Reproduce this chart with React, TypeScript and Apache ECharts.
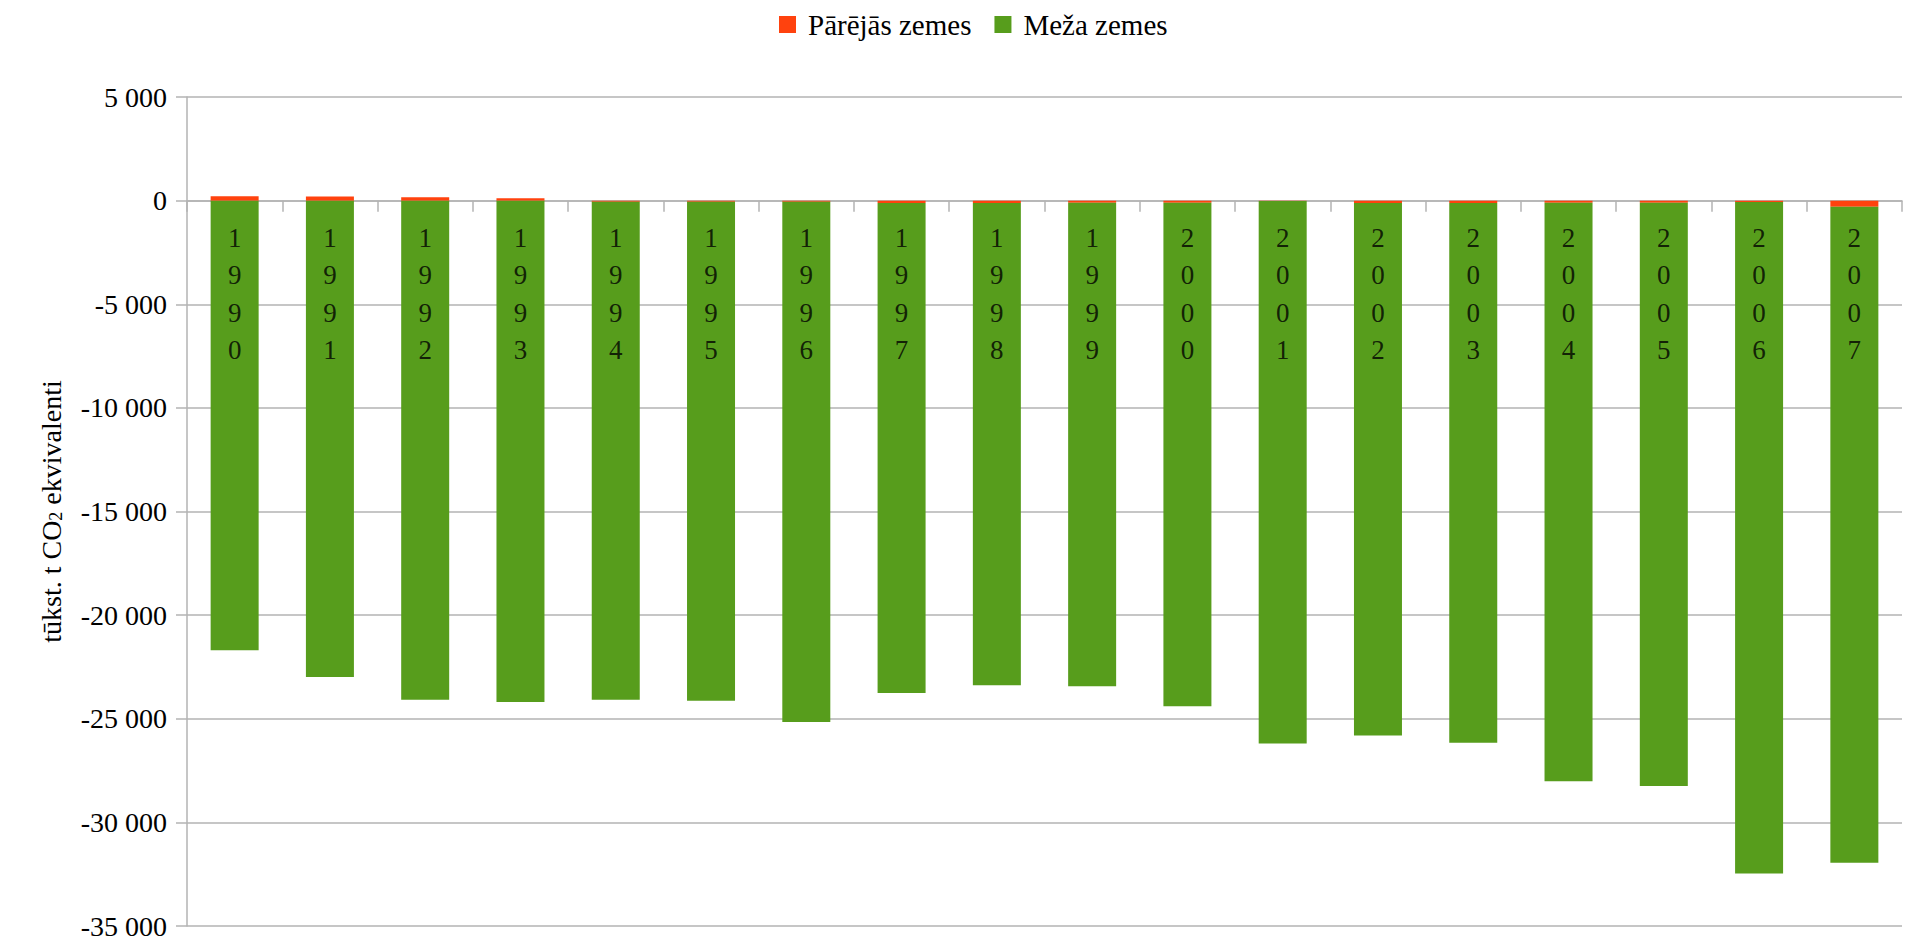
import React, { useEffect, useRef } from "react";
import * as echarts from "echarts";

const categories = ["1990", "1991", "1992", "1993", "1994", "1995", "1996", "1997", "1998", "1999", "2000", "2001", "2002", "2003", "2004", "2005", "2006", "2007"];
const otherLand = [210, 200, 160, 110, -50, -50, -50, -110, -110, -100, -100, -20, -110, -110, -100, -100, -70, -300];
const forestLand = [-21690, -22990, -24080, -24190, -24030, -24080, -25110, -23650, -23270, -23330, -24300, -26180, -25700, -26050, -27920, -28150, -32400, -31650];
const seriesNames = ["Pārējās zemes", "Meža zemes"];
const yMin = -35000;
const yMax = 5000;
const yInterval = 5000;

const FONT = "'Liberation Serif', 'DejaVu Serif', serif";

function fmt(v: number): string {
  const s = Math.abs(v).toString().replace(/\B(?=(\d{3})+(?!\d))/g, " ");
  return (v < 0 ? "-" : "") + s;
}

export default function App() {
  const ref = useRef<HTMLDivElement>(null);
  useEffect(() => {
    if (!ref.current) return;
    const chart = echarts.init(ref.current, undefined, { renderer: "svg" });
    chart.setOption({
      animation: false,
      backgroundColor: "#ffffff",
      textStyle: { fontFamily: FONT },
      legend: {
        data: seriesNames,
        top: 5,
        left: 774,
        itemWidth: 17,
        itemHeight: 17,
        itemGap: 23,
        icon: "rect",
        textStyle: { fontFamily: FONT, fontSize: 29, color: "#000000", padding: [0, 0, 0, 7] },
      },
      grid: { left: 187, right: 3, top: 97, bottom: 11, containLabel: false },
      xAxis: {
        type: "category",
        data: categories,
        boundaryGap: true,
        axisLine: { onZero: true, lineStyle: { color: "#b3b3b3", width: 1.5 } },
        axisTick: { show: true, length: 11, alignWithLabel: false, lineStyle: { color: "#b3b3b3", width: 1.5 } },
        axisLabel: { show: false },
        splitLine: { show: false },
      },
      yAxis: {
        type: "value",
        min: yMin,
        max: yMax,
        interval: yInterval,
        name: "tūkst. t CO{sub|2} ekvivalenti",
        nameLocation: "middle",
        nameRotate: 90,
        nameGap: 122,
        nameTextStyle: {
          fontFamily: FONT,
          fontSize: 28,
          color: "#000000",
          rich: {
            sub: { fontFamily: FONT, fontSize: 18, color: "#000000", padding: [0, 0, -10, 0] },
          },
        },
        axisLine: { show: true, lineStyle: { color: "#b3b3b3", width: 1.5 } },
        axisTick: { show: true, length: 11, lineStyle: { color: "#b3b3b3", width: 1.5 } },
        axisLabel: { margin: 20, fontFamily: FONT, fontSize: 28, color: "#000000", formatter: (v: number) => fmt(v) },
        splitLine: { show: true, lineStyle: { color: "#b3b3b3", width: 1.5 } },
      },
      series: [
        {
          name: seriesNames[0],
          type: "bar",
          stack: "total",
          data: otherLand,
          barWidth: 48,
          itemStyle: { color: "#ff420e" },
        },
        {
          name: seriesNames[1],
          type: "bar",
          stack: "total",
          data: forestLand,
          barWidth: 48,
          itemStyle: { color: "#579d1c" },
        },
        {
          name: "labels",
          type: "scatter",
          data: categories.map((c) => [c, 0]),
          symbolSize: 1,
          itemStyle: { color: "transparent" },
          silent: true,
          z: 10,
          label: {
            show: true,
            position: "bottom",
            distance: 18,
            fontFamily: FONT,
            fontSize: 27,
            lineHeight: 37.5,
            color: "#000000",
            align: "center",
            formatter: (p: any) => String(p.name || p.value[0]).split("").join("\n"),
          },
        },
      ],
    });
    return () => chart.dispose();
  }, []);
  return <div ref={ref} style={{ position: "fixed", left: 0, top: 0, width: 1905, height: 940 }} />;
}
